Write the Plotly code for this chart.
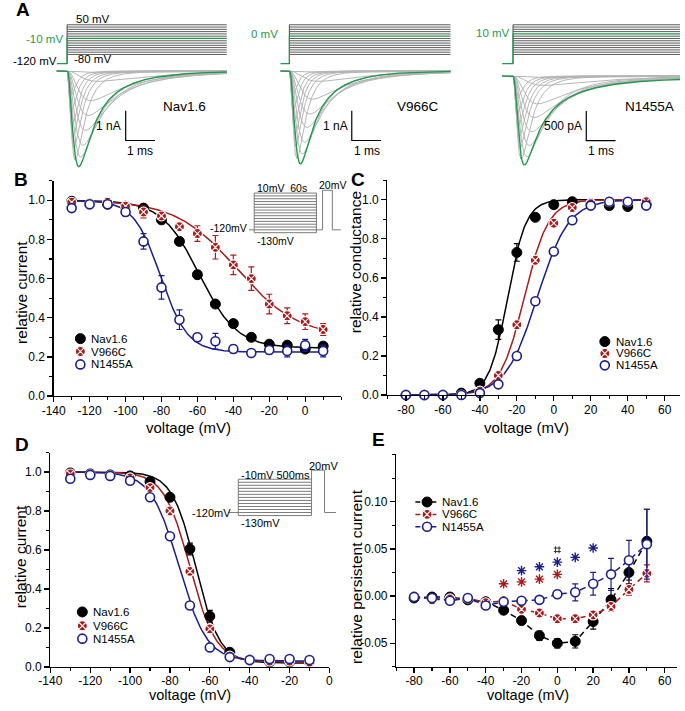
import numpy as np
import plotly.graph_objects as go

W, H = 685, 711
FONT = "Liberation Sans, Arial, Helvetica, sans-serif"

# ============================ DATA ============================
variants = ["Nav1.6", "V966C", "N1455A"]

# ---- Panel A: step protocol (mV) ----
protocol_steps_mV = [-80, -70, -60, -50, -40, -30, -20, -10, 0, 10, 20, 30, 40, 50]
protocol_hold_mV = -120
highlight_step_mV = [-10, 0, 10]
highlight_labels = ["-10 mV", "0 mV", "10 mV"]
scale_bar_nA = [1.0, 1.0, 0.5]
scale_bar_labels = ["1 nA", "1 nA", "500 pA"]

green_amp = [3.22, 3.13, 1.50]
green_tau_m = [0.16, 0.17, 0.15]
green_tau_h = [0.45, 0.32, 0.40]
green_slow = [0.25, 0.28, 0.32]
green_tau_slow = [1.3, 1.0, 1.4]
green_persistent = [0.0, 0.0, 0.04]

gray_amp = [
    [3.00, 2.60, 2.20, 1.80, 1.30, 0.80, 2.90, 2.50, 2.00, 1.50, 1.00, 0.35, 0.06],
    [2.95, 2.55, 2.15, 1.75, 1.25, 0.75, 2.80, 2.40, 1.90, 1.45, 0.95, 0.35, 0.05],
    [1.40, 1.22, 1.03, 0.84, 0.61, 0.38, 1.36, 1.17, 0.94, 0.70, 0.47, 0.16, 0.03],
]
gray_tau_m = [
    [0.12, 0.10, 0.09, 0.08, 0.07, 0.06, 0.19, 0.22, 0.25, 0.28, 0.31, 0.40, 0.50],
    [0.12, 0.10, 0.09, 0.08, 0.07, 0.06, 0.20, 0.23, 0.26, 0.29, 0.32, 0.40, 0.50],
    [0.12, 0.10, 0.09, 0.08, 0.07, 0.06, 0.19, 0.22, 0.25, 0.28, 0.31, 0.40, 0.50],
]
gray_tau_h = [
    [0.33, 0.28, 0.25, 0.22, 0.20, 0.18, 0.55, 0.65, 0.80, 0.95, 1.10, 1.50, 2.00],
    [0.28, 0.24, 0.21, 0.19, 0.17, 0.15, 0.45, 0.55, 0.65, 0.80, 0.95, 1.30, 2.00],
    [0.35, 0.30, 0.27, 0.24, 0.22, 0.20, 0.60, 0.70, 0.85, 1.00, 1.20, 1.60, 2.00],
]
gray_slow = [0.08, 0.08, 0.08, 0.08, 0.08, 0.08, 0.20, 0.20, 0.20, 0.20, 0.20, 0.20, 0.20]

# ---- Panel B: slow inactivation ----
vB = [-130, -120, -110, -100, -90, -80, -70, -60, -50, -40, -30, -20, -10, 0, 10]
B_nav = [0.995, 0.98, 0.98, 0.97, 0.96, 0.90, 0.79, 0.62, 0.47, 0.37, 0.30, 0.265, 0.26, 0.24, 0.255]
B_nav_err = [0.01, 0.01, 0.01, 0.01, 0.01, 0.01, 0.01, 0.02, 0.01, 0.01, 0.01, 0.01, 0.01, 0.01, 0.01]
B_v966 = [0.99, 0.98, 0.99, 0.97, 0.94, 0.92, 0.865, 0.83, 0.76, 0.67, 0.60, 0.47, 0.41, 0.38, 0.34]
B_v966_err = [0.01, 0.01, 0.01, 0.01, 0.03, 0.01, 0.02, 0.04, 0.06, 0.05, 0.06, 0.05, 0.04, 0.04, 0.03]
B_n1455 = [0.96, 0.98, 0.98, 0.94, 0.79, 0.555, 0.39, 0.30, 0.28, 0.24, 0.22, 0.235, 0.23, 0.26, 0.23]
B_n1455_err = [0.01, 0.01, 0.01, 0.02, 0.04, 0.06, 0.05, 0.02, 0.04, 0.02, 0.01, 0.02, 0.03, 0.03, 0.03]
B_fit_vhalf = [-59, -38, -80.5]
B_fit_k = [10.5, 17, 7.5]
B_fit_c = [0.245, 0.30, 0.225]

# ---- Panel C: activation ----
vC = [-80, -70, -60, -50, -40, -30, -20, -10, 0, 10, 20, 30, 40, 50]
C_nav = [0.0, 0.0, 0.0, 0.01, 0.06, 0.335, 0.73, 0.91, 0.975, 0.99, 0.98, 0.97, 0.965, 0.98]
C_nav_err = [0, 0, 0, 0, 0.01, 0.05, 0.045, 0.01, 0.01, 0.01, 0.01, 0.01, 0.01, 0.01]
C_v966 = [0.0, 0.0, 0.0, 0.0, 0.02, 0.10, 0.36, 0.69, 0.88, 0.96, 0.98, 0.99, 0.99, 0.99]
C_v966_err = [0, 0, 0, 0, 0.005, 0.01, 0.01, 0.01, 0.01, 0.01, 0.01, 0.005, 0.005, 0.005]
C_n1455 = [0.0, 0.0, 0.0, 0.0, 0.01, 0.055, 0.20, 0.48, 0.735, 0.895, 0.97, 0.99, 0.99, 0.97]
C_n1455_err = [0, 0, 0, 0, 0.005, 0.01, 0.01, 0.01, 0.01, 0.01, 0.01, 0.005, 0.005, 0.005]
C_fit_vhalf = [-25, -16, -9]
C_fit_k = [5.0, 6.5, 8.5]

# ---- Panel D: fast inactivation ----
vD = [-130, -120, -110, -100, -90, -80, -70, -60, -50, -40, -30, -20, -10]
D_nav = [0.995, 0.99, 0.985, 0.98, 0.95, 0.87, 0.605, 0.26, 0.075, 0.035, 0.025, 0.025, 0.025]
D_nav_err = [0.01, 0.01, 0.01, 0.01, 0.01, 0.01, 0.03, 0.03, 0.01, 0.01, 0.01, 0.01, 0.01]
D_v966 = [0.99, 0.985, 0.98, 0.97, 0.92, 0.80, 0.49, 0.195, 0.055, 0.035, 0.03, 0.03, 0.025]
D_v966_err = [0.01, 0.01, 0.01, 0.01, 0.01, 0.01, 0.02, 0.02, 0.01, 0.01, 0.01, 0.01, 0.01]
D_n1455 = [0.965, 0.985, 0.98, 0.955, 0.87, 0.67, 0.315, 0.10, 0.05, 0.035, 0.04, 0.04, 0.035]
D_n1455_err = [0.01, 0.01, 0.01, 0.01, 0.01, 0.01, 0.01, 0.01, 0.01, 0.01, 0.01, 0.01, 0.01]
D_fit_vhalf = [-67, -70, -75.5]
D_fit_k = [6.0, 6.5, 7.0]
D_fit_c = [0.02, 0.025, 0.03]

# ---- Panel E: persistent current ----
vE = [-80, -70, -60, -50, -40, -30, -20, -10, 0, 10, 20, 30, 40, 50]
E_nav = [-0.002, -0.001, -0.001, -0.004, -0.006, -0.015, -0.026, -0.042, -0.050, -0.048, -0.027, -0.004, 0.025, 0.058]
E_nav_err = [0.002, 0.001, 0.001, 0.001, 0.002, 0.003, 0.003, 0.005, 0.005, 0.007, 0.008, 0.012, 0.012, 0.034]
E_v966 = [0.000, -0.004, -0.003, -0.002, -0.007, -0.005, -0.014, -0.018, -0.024, -0.024, -0.020, -0.011, 0.007, 0.024]
E_v966_err = [0.001, 0.001, 0.001, 0.001, 0.001, 0.002, 0.003, 0.003, 0.003, 0.003, 0.004, 0.005, 0.006, 0.009]
E_n1455 = [-0.001, -0.002, -0.005, -0.002, -0.010, -0.006, -0.005, -0.004, 0.002, 0.004, 0.013, 0.023, 0.038, 0.055]
E_n1455_err = [0.001, 0.001, 0.001, 0.001, 0.002, 0.002, 0.002, 0.003, 0.004, 0.009, 0.012, 0.017, 0.021, 0.037]
E_star_red_v = [-30, -20, -10, 0]
E_star_red_y = [0.013, 0.015, 0.018, 0.023]
E_star_blue_v = [-20, -10, 0, 10, 20]
E_star_blue_y = [0.027, 0.031, 0.036, 0.041, 0.051]
E_hash_v = [0]
E_hash_y = [0.049]

# ---- inset protocols ----
insetB_levels = [-130, -120, -110, -100, -90, -80, -70, -60, -50, -40, -30, -20, -10, 0, 10]
insetD_levels = [-130, -120, -110, -100, -90, -80, -70, -60, -50, -40, -30, -20, -10]
inset_hold = -120
inset_test = 20

# tick labels
ticks_B_x = [-140, -120, -100, -80, -60, -40, -20, 0]
ticks_CE_x = [-80, -60, -40, -20, 0, 20, 40, 60]
ticks_D_x = [-140, -120, -100, -80, -60, -40, -20, 0]
ticks_rel = [0.0, 0.2, 0.4, 0.6, 0.8, 1.0]
ticks_E_y = [-0.05, 0.0, 0.05, 0.10]

# ============================ STYLE ============================
BLACK = "#000000"
RED = "#a81c1c"
BLUE = "#1b1f8a"
GREEN = "#1f9a4c"
GRAY_TR = "#b5b5b5"
PROTO = "#4a4a4a"
colors = [BLACK, RED, BLUE]
DASH = "6px,4px"


def mk(i, size=10):
    if i == 0:
        return dict(symbol="circle", size=size, color=BLACK, line=dict(color=BLACK, width=1))
    if i == 1:
        return dict(symbol="circle-x", size=size, color=RED, line=dict(color="white", width=1.1))
    return dict(symbol="circle", size=size - 1, color="white", line=dict(color=BLUE, width=1.6))


def xd(a, b):
    return [a / W, b / W]


def yd(top, bottom):
    return [1 - bottom / H, 1 - top / H]


def lin(p, pa, va, pb, vb):
    return va + (p - pa) * (vb - va) / (pb - pa)


fig = go.Figure()
L = {}
ann = []


def label(text, x, y, size=12, color="black", xanchor="left", yanchor="middle", bold=False, angle=0):
    ann.append(dict(text=("<b>%s</b>" % text) if bold else text, x=x / W, y=1 - y / H,
                    xref="paper", yref="paper", xanchor=xanchor, yanchor=yanchor,
                    showarrow=False, textangle=angle, borderpad=0,
                    font=dict(family=FONT, size=size, color=color)))


hidden = dict(visible=False, showgrid=False, zeroline=False, fixedrange=True)

# ============================ PANEL A ============================
A_x_px = [(40, 226), (268, 456), (494, 685)]
A_t0_px = [56.4, 284.0, 513.0]
A_ms_px = 30.0
A_base_px = [71.7, 71.7, 76.7]
A_nA_px = [30.0, 30.0, 60.0]
A_t_start = [-0.35, -0.30, -0.37]
A_t_end = [5.45, 5.50, 5.70]
scale_t0 = [2.0, 2.13, 2.5]
scale_i0 = [-1.34, -1.34, -0.59]


def sweep(t, amp, tau_m, tau_h, slow, tau_s, pers=0.0):
    tt = np.clip(t, 0, None)
    m = (1 - np.exp(-tt / tau_m)) ** 3
    h = (1 - slow) * np.exp(-tt / tau_h) + slow * np.exp(-tt / tau_s)
    g = m * h
    g = g / g.max()
    return -(amp - pers) * g - pers * (1 - np.exp(-tt / 0.1))


for k in range(3):
    xa = "x%d" % (k + 1) if k else "x"
    ypro = "y%d" % (2 * k + 1) if k else "y"
    ycur = "y%d" % (2 * k + 2)
    xl, xr_ = A_x_px[k]
    L["xaxis%s" % ("" if k == 0 else k + 1)] = dict(
        hidden, domain=xd(xl, xr_),
        range=[lin(xl, A_t0_px[k], 0, A_t0_px[k] + A_ms_px, 1), lin(xr_, A_t0_px[k], 0, A_t0_px[k] + A_ms_px, 1)],
        anchor=ypro)
    L["yaxis%s" % ("" if k == 0 else 2 * k + 1)] = dict(
        hidden, domain=yd(15, 70), range=[lin(70, 25, 50, 55, -80), lin(15, 25, 50, 55, -80)], anchor=xa)
    L["yaxis%d" % (2 * k + 2)] = dict(
        hidden, domain=yd(60, 180),
        range=[lin(180, A_base_px[k], 0, A_base_px[k] + A_nA_px[k], -1),
               lin(60, A_base_px[k], 0, A_base_px[k] + A_nA_px[k], -1)], anchor=xa)

    tend = A_t_end[k]
    for v in protocol_steps_mV:
        if v == highlight_step_mV[k]:
            continue
        fig.add_trace(go.Scatter(x=[0, tend], y=[v, v], mode="lines", xaxis=xa, yaxis=ypro,
                                 line=dict(color=PROTO, width=0.9), hoverinfo="skip", showlegend=False))
    fig.add_trace(go.Scatter(x=[0, 0], y=[protocol_hold_mV, max(protocol_steps_mV)], mode="lines",
                             xaxis=xa, yaxis=ypro, line=dict(color=PROTO, width=1), hoverinfo="skip",
                             showlegend=False))
    hv = highlight_step_mV[k]
    fig.add_trace(go.Scatter(x=[A_t_start[k], 0, 0, tend], y=[protocol_hold_mV, protocol_hold_mV, hv, hv],
                             mode="lines", xaxis=xa, yaxis=ypro, line=dict(color=GREEN, width=1.2),
                             hoverinfo="skip", showlegend=False))

    t = np.linspace(A_t_start[k], tend, 800)
    for j in range(len(gray_amp[k])):
        y = sweep(t, gray_amp[k][j], gray_tau_m[k][j], gray_tau_h[k][j], gray_slow[j], 2.6 * gray_tau_h[k][j])
        fig.add_trace(go.Scatter(x=t, y=y, mode="lines", xaxis=xa, yaxis=ycur,
                                 line=dict(color=GRAY_TR, width=1), hoverinfo="skip", showlegend=False))
    y = sweep(t, green_amp[k], green_tau_m[k], green_tau_h[k], green_slow[k], green_tau_slow[k],
              green_persistent[k])
    fig.add_trace(go.Scatter(x=t, y=y, mode="lines", xaxis=xa, yaxis=ycur,
                             line=dict(color=GREEN, width=1.4), hoverinfo="skip", showlegend=False))
    t0, i0, sb = scale_t0[k], scale_i0[k], scale_bar_nA[k]
    fig.add_trace(go.Scatter(x=[t0, t0, t0 + 1], y=[i0, i0 - sb, i0 - sb], mode="lines", xaxis=xa,
                             yaxis=ycur, line=dict(color=BLACK, width=1.2), hoverinfo="skip",
                             showlegend=False))

label("A", 3, 10, size=19, bold=True)
label("50 mV", 64, 19, size=11.5)
label("-80 mV", 62, 60, size=11.5)
label("-120 mV", 0, 62, size=11.5)
label(highlight_labels[0], 53, 39, size=11.5, color=GREEN, xanchor="right")
label(highlight_labels[1], 273, 34, size=11.5, color=GREEN, xanchor="right")
label(highlight_labels[2], 511, 33, size=11.5, color=GREEN, xanchor="right")
label(variants[0], 200, 108, size=13.5, xanchor="right")
label(variants[1], 438, 108, size=13.5, xanchor="right")
label(variants[2], 679, 108, size=13.5, xanchor="right")
for k, bx in enumerate([116, 348, 588]):
    label(scale_bar_labels[k], bx - 3, 127, size=12, xanchor="right")
    label("1 ms", bx + 15, 152, size=12, xanchor="center")

# ============================ MAIN PANELS ============================
AX = dict(showline=True, linecolor="black", linewidth=1.3, ticks="outside", ticklen=5, tickwidth=1.3,
          tickcolor="black", showgrid=False, zeroline=False, fixedrange=True, tickmode="array",
          tickfont=dict(family=FONT, size=12, color="black"))


def minor(vals):
    return dict(ticks="outside", ticklen=3, tickwidth=1.1, tickcolor="black", tickmode="array",
                tickvals=vals, showgrid=False)


def fmt(v, nd):
    s = ("%." + str(nd) + "f") % v
    return s.replace("-0.00", "0.00")


def panel(n, xdom, ydom, xr, yr, xt, xminor, yt, yminor, ynd, xstandoff=0):
    L["xaxis%d" % n] = dict(AX, domain=xdom, range=xr, anchor="y%d" % (n + 3), tickvals=xt,
                            ticktext=["%d" % v for v in xt], minor=minor(xminor),
                            ticklabelstandoff=xstandoff)
    L["yaxis%d" % (n + 3)] = dict(AX, domain=ydom, range=yr, anchor="x%d" % n, tickvals=yt,
                                  ticktext=[fmt(v, ynd) for v in yt], minor=minor(yminor))


panel(4, xd(42.7, 337), yd(182.5, 400), [-140, 20], [0, 1.1], ticks_B_x,
      [-130, -110, -90, -70, -50, -30, -10, 10, 20], ticks_rel, [0.1, 0.3, 0.5, 0.7, 0.9, 1.1], 1,
      xstandoff=-2)
panel(5, xd(384.4, 683.5), yd(182, 399), [-90, 68], [0, 1.1], ticks_CE_x,
      [-90, -70, -50, -30, -10, 10, 30, 50], ticks_rel, [0.1, 0.3, 0.5, 0.7, 0.9, 1.1], 1, xstandoff=-2)
panel(6, xd(39.3, 325), yd(457, 673.5), [-140, 0], [0, 1.1], ticks_D_x,
      [-130, -110, -90, -70, -50, -30, -10], ticks_rel, [0.1, 0.3, 0.5, 0.7, 0.9, 1.1], 1, xstandoff=-3)
panel(7, xd(393.4, 681.2), yd(459, 673.5), [-90, 67], [-0.075, 0.15], ticks_CE_x,
      [-90, -70, -50, -30, -10, 10, 30, 50], ticks_E_y, [-0.075, -0.025, 0.025, 0.075, 0.125, 0.15], 2,
      xstandoff=-3)


def boltz_down(v, vh, k, c):
    v = np.asarray(v, float)
    return c + (1 - c) / (1 + np.exp((v - vh) / k))


def boltz_up(v, vh, k):
    v = np.asarray(v, float)
    return 1 / (1 + np.exp((vh - v) / k))


def points(xa, ya, x, y, err, i, lines=False):
    fig.add_trace(go.Scatter(
        x=x, y=y, xaxis=xa, yaxis=ya, mode="lines+markers" if lines else "markers",
        marker=mk(i), cliponaxis=False, hoverinfo="skip", showlegend=False,
        line=dict(color=colors[i], width=1.5, dash=DASH) if lines else None,
        error_y=dict(type="data", array=err, color=colors[i], thickness=1.2, width=3, visible=True)))


vv = np.linspace(min(vB), max(vB), 300)
for i in range(3):
    fig.add_trace(go.Scatter(x=vv, y=boltz_down(vv, B_fit_vhalf[i], B_fit_k[i], B_fit_c[i]), xaxis="x4",
                             yaxis="y7", mode="lines", line=dict(color=colors[i], width=1.5),
                             hoverinfo="skip", showlegend=False))
for i, (d, e) in enumerate([(B_nav, B_nav_err), (B_v966, B_v966_err), (B_n1455, B_n1455_err)]):
    points("x4", "y7", vB, d, e, i)

vv = np.linspace(min(vC), max(vC), 300)
for i in range(3):
    fig.add_trace(go.Scatter(x=vv, y=boltz_up(vv, C_fit_vhalf[i], C_fit_k[i]), xaxis="x5", yaxis="y8",
                             mode="lines", line=dict(color=colors[i], width=1.5), hoverinfo="skip",
                             showlegend=False))
for i, (d, e) in enumerate([(C_nav, C_nav_err), (C_v966, C_v966_err), (C_n1455, C_n1455_err)]):
    points("x5", "y8", vC, d, e, i)

vv = np.linspace(min(vD), max(vD), 300)
for i in range(3):
    fig.add_trace(go.Scatter(x=vv, y=boltz_down(vv, D_fit_vhalf[i], D_fit_k[i], D_fit_c[i]), xaxis="x6",
                             yaxis="y9", mode="lines", line=dict(color=colors[i], width=1.5),
                             hoverinfo="skip", showlegend=False))
for i, (d, e) in enumerate([(D_nav, D_nav_err), (D_v966, D_v966_err), (D_n1455, D_n1455_err)]):
    points("x6", "y9", vD, d, e, i)

for i, (d, e) in enumerate([(E_nav, E_nav_err), (E_v966, E_v966_err), (E_n1455, E_n1455_err)]):
    points("x7", "y10", vE, d, e, i, lines=True)
fig.add_trace(go.Scatter(x=E_star_red_v, y=E_star_red_y, xaxis="x7", yaxis="y10", mode="markers",
                         marker=dict(symbol="asterisk-open", size=8, color=RED, line=dict(color=RED, width=1.4)),
                         hoverinfo="skip", showlegend=False, cliponaxis=False))
fig.add_trace(go.Scatter(x=E_star_blue_v, y=E_star_blue_y, xaxis="x7", yaxis="y10", mode="markers",
                         marker=dict(symbol="asterisk-open", size=8, color=BLUE, line=dict(color=BLUE, width=1.4)),
                         hoverinfo="skip", showlegend=False, cliponaxis=False))
fig.add_trace(go.Scatter(x=E_hash_v, y=E_hash_y, xaxis="x7", yaxis="y10", mode="markers",
                         marker=dict(symbol="hash-open", size=7, color="#333333",
                                     line=dict(color="#333333", width=1)),
                         hoverinfo="skip", showlegend=False, cliponaxis=False))

# ============================ INSETS ============================
INS = dict(color="#7a7a7a", width=1)
segB = [5.3, 63.7, 6.3, 10.0, 8.7]
tB = np.cumsum([0] + segB)
L["xaxis8"] = dict(hidden, domain=xd(240, 340), range=[lin(240, 242.7, 0, 243.7, 1), lin(340, 242.7, 0, 243.7, 1)],
                   anchor="y11")
L["yaxis11"] = dict(hidden, domain=yd(185, 240), range=[lin(240, 195, 10, 235, -130), lin(185, 195, 10, 235, -130)],
                    anchor="x8")
for v in insetB_levels:
    fig.add_trace(go.Scatter(x=[tB[1], tB[2]], y=[v, v], xaxis="x8", yaxis="y11", mode="lines", line=INS,
                             hoverinfo="skip", showlegend=False))
for tt in (tB[1], tB[2]):
    fig.add_trace(go.Scatter(x=[tt, tt], y=[min(insetB_levels), max(insetB_levels)], xaxis="x8", yaxis="y11",
                             mode="lines", line=INS, hoverinfo="skip", showlegend=False))
fig.add_trace(go.Scatter(x=[tB[0], tB[1]], y=[inset_hold, inset_hold], xaxis="x8", yaxis="y11", mode="lines",
                         line=INS, hoverinfo="skip", showlegend=False))
fig.add_trace(go.Scatter(x=[tB[2], tB[3], tB[3], tB[4], tB[4], tB[5]],
                         y=[inset_hold, inset_hold, inset_test, inset_test, inset_hold, inset_hold],
                         xaxis="x8", yaxis="y11", mode="lines", line=INS, hoverinfo="skip", showlegend=False))
label("10mV  60s", 250, 190, size=10.5)
label("20mV", 313, 187, size=10.5)
label("-120mV", 202, 230, size=10.5)
label("-130mV", 250, 243, size=10.5)

segD = [10.0, 75.0, 13.3, 11.7]
tD = np.cumsum([0] + segD)
L["xaxis9"] = dict(hidden, domain=xd(215, 340), range=[lin(215, 221.7, 0, 222.7, 1), lin(340, 221.7, 0, 222.7, 1)],
                   anchor="y12")
L["yaxis12"] = dict(hidden, domain=yd(465, 532), range=[lin(532, 484, -10, 520.7, -130), lin(465, 484, -10, 520.7, -130)],
                    anchor="x9")
for v in insetD_levels:
    fig.add_trace(go.Scatter(x=[tD[1], tD[2]], y=[v, v], xaxis="x9", yaxis="y12", mode="lines", line=INS,
                             hoverinfo="skip", showlegend=False))
fig.add_trace(go.Scatter(x=[tD[1], tD[1]], y=[min(insetD_levels), max(insetD_levels)], xaxis="x9", yaxis="y12",
                         mode="lines", line=INS, hoverinfo="skip", showlegend=False))
fig.add_trace(go.Scatter(x=[tD[0], tD[1]], y=[inset_hold, inset_hold], xaxis="x9", yaxis="y12", mode="lines",
                         line=INS, hoverinfo="skip", showlegend=False))
fig.add_trace(go.Scatter(x=[tD[2], tD[2], tD[3], tD[3], tD[4]],
                         y=[min(insetD_levels), inset_test, inset_test, inset_hold, inset_hold],
                         xaxis="x9", yaxis="y12", mode="lines", line=INS, hoverinfo="skip", showlegend=False))
label("-10mV 500ms", 233, 480, size=11)
label("20mV", 303, 471, size=11)
label("-120mV", 183, 518, size=11)
label("-130mV", 233, 528, size=11)

# ============================ LEGENDS (pixel overlay) ============================
L["xaxis10"] = dict(hidden, domain=[0, 1], range=[0, W], anchor="y13")
L["yaxis13"] = dict(hidden, domain=[0, 1], range=[H, 0], anchor="x10")
leg_pos = [(70, [342, 355, 368]), (607, [345, 357, 369]), (72, [618, 632, 645])]
for lx, ys in leg_pos:
    for i in range(3):
        fig.add_trace(go.Scatter(x=[lx], y=[ys[i]], xaxis="x10", yaxis="y13", mode="markers", marker=mk(i),
                                 hoverinfo="skip", showlegend=False, cliponaxis=False))
        label(variants[i], lx + 10, ys[i], size=11.5)
for i, ly in enumerate([507, 519.5, 532]):
    fig.add_trace(go.Scatter(x=[413, 437], y=[ly, ly], xaxis="x10", yaxis="y13", mode="lines",
                             line=dict(color=colors[i], width=1.5, dash="5px,3px"), hoverinfo="skip",
                             showlegend=False))
    fig.add_trace(go.Scatter(x=[425], y=[ly], xaxis="x10", yaxis="y13", mode="markers", marker=mk(i),
                             hoverinfo="skip", showlegend=False, cliponaxis=False))
    label(variants[i], 439, ly, size=11.5)

# ============================ TITLES / LETTERS ============================
label("B", 1, 181, size=19, bold=True)
label("C", 346, 181, size=19, bold=True)
label("D", 2, 449, size=19, bold=True)
label("E", 368, 444, size=19, bold=True)
label("voltage (mV)", 181, 432, size=15, xanchor="center")
label("voltage (mV)", 527, 432, size=15, xanchor="center")
label("voltage (mV)", 182, 711, size=14.5, xanchor="center", yanchor="bottom")
label("voltage (mV)", 528, 711, size=14.5, xanchor="center", yanchor="bottom")
label("relative current", 9, 295, size=15.5, xanchor="center", angle=-90)
label("relative conductance", 352, 265, size=15.5, xanchor="center", angle=-90)
label("relative current", 9, 562, size=15.5, xanchor="center", angle=-90)
label("relative persistent current", 353, 582, size=15.5, xanchor="center", angle=-90)

fig.update_layout(
    width=W, height=H, margin=dict(l=0, r=0, t=0, b=0), paper_bgcolor="white", plot_bgcolor="rgba(0,0,0,0)",
    showlegend=False, hovermode=False, annotations=ann, font=dict(family=FONT, color="black"), **L)

fig.write_html("out.html", config={"displayModeBar": False, "staticPlot": True},
               post_script="document.body.style.margin='0px';document.body.style.padding='0px';")
